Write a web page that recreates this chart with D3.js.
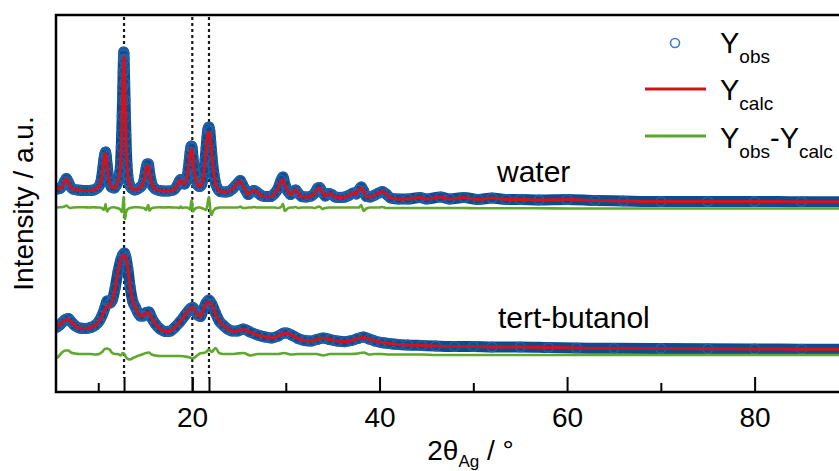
<!DOCTYPE html>
<html>
<head>
<meta charset="utf-8">
<script src="https://cdn.jsdelivr.net/npm/d3@7"></script>
<style>
  html, body { margin: 0; padding: 0; background: #fff; }
  svg { display: block; font-family: "Liberation Sans", Arial, Helvetica, sans-serif; }
</style>
</head>
<body>
<svg id="chart" width="839" height="471"></svg>
<script>
// ---- Water sample: 2θ grid, observed, calculated and difference (a.u.) ----
const waterTwoTheta = [5.6,5.9,6.2,6.4,6.6,6.8,7.0,7.3,7.8,8.5,9.0,9.5,9.9,10.2,10.35,10.5,10.6,10.7,10.78,10.86,10.95,11.05,11.2,11.4,11.7,12.0,12.2,12.3,12.38,12.45,12.5,12.55,12.59,12.62,12.65,12.68,12.7,12.72,12.74,12.76,12.79,12.82,12.86,12.9,12.95,13.0,13.07,13.15,13.25,13.4,13.6,13.9,14.2,14.5,14.8,14.95,15.1,15.22,15.34,15.45,15.6,15.8,16.1,16.5,17.0,17.5,18.0,18.4,18.65,18.8,18.95,19.2,19.5,19.6,19.7,19.8,19.88,19.95,20.02,20.1,20.2,20.3,20.45,20.6,20.8,21.0,21.15,21.3,21.4,21.5,21.6,21.7,21.8,21.9,22.0,22.1,22.2,22.35,22.5,22.7,23.0,23.6,24.0,24.3,24.6,24.9,25.15,25.4,25.7,26.0,26.3,26.6,26.9,27.3,27.8,28.4,28.8,29.2,29.5,29.7,29.9,30.2,30.5,30.8,31.05,31.3,31.7,32.2,32.7,33.1,33.4,33.6,33.9,34.2,34.6,34.9,35.3,35.8,36.3,36.8,37.2,37.5,37.8,38.05,38.3,38.6,39.0,39.5,39.9,40.3,40.7,41.2,42.0,43.0,44.3,45.0,46.5,47.5,49.0,50.5,52.0,53.5,55.0,57.0,60.0,63.0,66.0,70.0,75.0,80.0,85.0,90.0,94.0];
const waterCalc = [21,21.5,24,28,31,28,24,21,20,19.5,19.5,20,22,26,32,42,50,55,56.5,53,45,36,28,23,22,26,32,38,47,62,75,92,108,120,134,146,151,153,151,146,136,124,108,92,74,60,45,35,28,24,21.5,20,21,23,27,33,41,44,44,39,31,24,21,19.5,19,19,20,24,29,30,27,26,34,41,49,57,60,61,59,53,44,36,29,25,23.5,25,30,40,50,61,71,77,78,75,67,57,47,35,27,22,18.5,18,19,21,24,27,28.5,25,20,15.5,18,19.5,18,15,13.5,13.5,16.5,22,29,30,26,19,15.5,18.5,20,17,13.5,13,14,17,21.5,22,18,14,16.5,15.5,13,12.5,13,15,17,16,20,22,19,13.5,13,15,17,18.5,16,12,11,11,12.5,11,13,11,12.5,10.5,12,10.5,10.5,10,10.5,9.5,9,8.5,8.5,8.5,8.3,8.3,8.3];
const waterObs = [21,21.5,24.5,28.5,31.5,28,24,21,20,19.5,19.5,20,22,26,32,42.5,50.5,56,58,53.5,45,36,28,23,22,26,32,38,47,63,76,94,110,123,138,150,155,158,156,151,140,127,110,93,75,60,45,35,28,24,21.5,20,21,23,27,33,41.5,46,46,39,31,24,21,19.5,19,19,20,24,29,30.5,27,26,34,41,49.5,58,63,64,62,53,44,36,29,25,23.5,25,30,40,50.5,62,73,81,83,79,68,57,47,35,27,22,18.5,18,19,21,24,27,29.5,25,20,15.5,18,19.5,18,15,13.5,13.5,16.5,22,30,33,26,19,15.5,18.5,20,17,13.5,13,14,17,22,22.5,18,14,16.5,15.5,13,12.5,13,15,17,16,20,23,19,13.5,13,15,17,18.5,16,12,11,11,12.5,11,13,11,12.5,10.5,12,10.5,10.5,10,10.5,9.5,9,8.5,8.5,8.5,8.3,8.3,8.3];
const waterDiff = [0.5,0.7,1,1.5,2.5,1,0,0.5,0.7,0.7,0.5,0.7,0.5,0.5,0,-1,-2,1,4,-1,-3.5,-2,-0.5,0.5,0.7,0,-0.5,-1,-2,-3,-4,-4,-2,2,6,9,11,10,6,0,-6,-10,-11,-8,-5,-3,-2,-1,-0.5,0,0.5,0.7,0.7,0.5,0,-0.5,-2,1,3,-2.5,-1,0,0.5,0.7,0.5,0.7,0.5,0.5,0,1.5,0,0.5,0.5,0,-0.5,-1.5,4,8,3,-3.5,-2,-1,0,0.5,0.5,0,-0.5,-1,-1.5,-2,1,7,11,3,-6,-7,-4,-2,-0.5,0,0.5,0.5,0.5,0.5,0.5,0.5,1.5,0,0,0.5,0.5,1,0.5,0.5,0.5,0.5,0.5,0,1,4,-3,-0.5,0.5,0.5,1,0,0.5,0.5,0.5,0,1,1.5,-1,0,0.5,0.5,0.5,0.5,0.5,0.5,0.5,0.5,0.5,3,-3,-0.5,0.5,0.5,0.5,1,0,0,0,0,0,0,0,0,0,-0.3,-0.3,-0.3,-0.3,-0.3,-0.5,-0.5,-0.5,-0.5,-0.5,-0.5,-0.5,-0.5,-0.5];

// ---- tert-Butanol sample ----
const butanolTwoTheta = [5.6,5.9,6.2,6.5,6.8,7.1,7.5,8.0,8.6,9.2,9.7,10.1,10.4,10.7,10.95,11.25,11.5,11.8,12.1,12.4,12.6,12.78,12.95,13.15,13.4,13.7,13.95,14.2,14.5,14.8,15.1,15.4,15.7,16.1,16.6,17.2,17.7,18.2,18.7,19.2,19.6,19.9,20.1,20.35,20.6,20.9,21.2,21.5,21.8,22.1,22.5,22.9,23.3,23.8,24.3,24.8,25.5,26.2,27.0,27.8,28.5,29.2,29.8,30.1,30.6,31.3,32.0,32.7,33.3,34.0,34.7,35.5,36.3,37.0,37.7,38.3,38.9,39.5,40.2,41.0,42.0,43.0,44.5,46,48,50,52,55,58,61,65,70,75,80,85,90,94];
const butanolCalc = [33,35,38,40,40.5,38.5,34.5,32,31.5,32.5,35,39,44,50,54,54,60,72,88,100,104,105,102,92,73,58,53,48,44,44,47,47,42,36,31,28.5,29,33,38,44,49,52,52.5,49,45,43.5,50,56,58,55,46,39,35,31,29,29,30.5,28,25,23,22,24,26.5,26.7,25,21.5,19.5,19,20.5,21.7,20.5,19,18.3,19.5,21.5,22.5,21,19,17.5,16.5,15.5,15,14.5,14,13.5,13.5,13,13,12.5,12,11.7,11.5,11.2,11,10.8,10.7,10.6];
const butanolObs = [33,35,38,40.5,41.5,38.5,34.5,32,31.5,32.5,35,39,44.5,52,59,57,60,72,88,100,105,107,102.5,92,73,58,53,48,44,44,47.5,48,42,36,31,28.5,29,33,38,44,49,52,52.5,49,45,43.5,50.5,57,60,56,47,39,35,31,29,29,31,28,25,23,22,24,27,27,25,21.5,19.5,19,20.5,22,20.5,19,18.3,19.5,21.5,23,21,19,17.5,16.5,15.5,15,14.5,14,13.5,13.5,13,13,12.5,12,11.7,11.5,11.2,11,10.8,10.7,10.6];
const butanolDiff = [-3,0,3,4.5,4.5,2.5,1.5,1,1,1,0.5,1,3,6,6.5,5,2,1,1,-0.5,2,1,-2,-4,-4.5,-3,-2,-1,0,1,2,2.5,0.5,-0.5,-1,-1,-1,-1,-1,-1.5,-2,-3,-3.3,-2,0,1.7,2,3,5.5,3,7,2,1,1,1,1.5,2,-0.5,1,1,1,1,2,1.5,0.5,1,1,1,1,-0.5,1,1,1,1,1.5,2.5,0.5,1,1,0.5,0.5,0.5,0.5,0,0,0,0,0,0,0,0,0,0,0,0,0,0];

// Vertical stacking offsets of each trace (a.u.)
const waterOffset = 182, waterDiffOffset = 184;
const butanolOffset = 32, butanolDiffOffset = 37;

// Reflection positions marked by dotted lines (°)
const markerLines = [12.75, 20.03, 21.81];
const majorTicks = [20, 40, 60, 80];
const minorTicks = [10, 30, 50, 70, 90];
const sampleNames = ["water", "tert-butanol"];

const colors = { obsBand: "#0f4c8e", obsRing: "#2361a8", calc: "#d3121d", diff: "#5ea82c" };

const svg = d3.select("#chart");
const plotLeft = 57, plotTop = 15, plotBottom = 392, plotRight = 884;

const x = d3.scaleLinear().domain([5.6, 93.8]).range([plotLeft, plotRight]);
const y = d3.scaleLinear().domain([0, 377]).range([plotBottom, plotTop]);

svg.append("defs").append("clipPath").attr("id", "plotClip")
  .append("rect").attr("x", plotLeft).attr("y", plotTop)
  .attr("width", plotRight - plotLeft).attr("height", plotBottom - plotTop);

// Dotted reference lines
svg.append("g").selectAll("line").data(markerLines).join("line")
  .attr("x1", d => x(d)).attr("x2", d => x(d))
  .attr("y1", plotTop + 2).attr("y2", plotBottom - 14)
  .attr("stroke", "#1a1a1a").attr("stroke-width", 2.2).attr("stroke-dasharray", "3,3");

const plot = svg.append("g").attr("clip-path", "url(#plotClip)");

function drawPattern(tt, obs, calc, diff, off, diffOff) {
  const obsPts = tt.map((t, i) => [t, obs[i] + off]);
  const calcPts = tt.map((t, i) => [t, calc[i] + off]);
  const diffPts = tt.map((t, i) => [t, diff[i] + diffOff]);
  const line = d3.line().x(d => x(d[0])).y(d => y(d[1])).curve(d3.curveMonotoneX);

  // observed data: dense circles merge into a band
  plot.append("path").datum(obsPts).attr("d", line)
    .attr("fill", "none").attr("stroke", colors.obsBand)
    .attr("stroke-width", 11).attr("stroke-linejoin", "round").attr("stroke-linecap", "round");
  plot.append("g").selectAll("circle").data(obsPts).join("circle")
    .attr("cx", d => x(d[0])).attr("cy", d => y(d[1])).attr("r", 4.8)
    .attr("fill", "none").attr("stroke", colors.obsRing).attr("stroke-width", 1.4);

  plot.append("path").datum(diffPts).attr("d", line)
    .attr("fill", "none").attr("stroke", colors.diff).attr("stroke-width", 2.6);
  plot.append("path").datum(calcPts).attr("d", line)
    .attr("fill", "none").attr("stroke", colors.calc).attr("stroke-width", 3);
}

drawPattern(waterTwoTheta, waterObs, waterCalc, waterDiff, waterOffset, waterDiffOffset);
drawPattern(butanolTwoTheta, butanolObs, butanolCalc, butanolDiff, butanolOffset, butanolDiffOffset);

// Frame
svg.append("rect").attr("x", plotLeft - 1).attr("y", plotTop).attr("width", 900).attr("height", plotBottom - plotTop)
  .attr("fill", "none").attr("stroke", "#000").attr("stroke-width", 2.5);

// Axis ticks (pointing inward)
function styleAxis(g) {
  g.select(".domain").remove();
  g.selectAll(".tick line").attr("stroke", "#000").attr("stroke-width", 2);
  g.selectAll(".tick text").attr("font-size", 28).attr("fill", "#000")
    .attr("font-family", "'Liberation Sans', Arial, sans-serif");
}
svg.append("g").attr("transform", `translate(0,${plotBottom})`)
  .call(d3.axisBottom(x).tickValues(majorTicks).tickSize(-15).tickPadding(15).tickFormat(d3.format("d")))
  .call(styleAxis);
svg.append("g").attr("transform", `translate(0,${plotBottom})`)
  .call(d3.axisBottom(x).tickValues(minorTicks).tickSize(-9).tickFormat(""))
  .call(styleAxis);
svg.append("g").attr("transform", `translate(0,${plotBottom})`)
  .call(d3.axisBottom(x).tickValues(markerLines).tickSize(-15).tickFormat(""))
  .call(styleAxis);

// Axis titles
const xt = svg.append("text").attr("x", (plotLeft + plotRight) / 2).attr("y", 460)
  .attr("text-anchor", "middle").attr("font-size", 28).attr("fill", "#000");
xt.append("tspan").text("2θ");
xt.append("tspan").attr("font-size", 17).attr("dy", 7).text("Ag");
xt.append("tspan").attr("dy", -7).text(" / °");

svg.append("text").attr("transform", `translate(33,${(plotTop + plotBottom) / 2}) rotate(-90)`)
  .attr("text-anchor", "middle").attr("font-size", 28).attr("fill", "#000")
  .text("Intensity / a.u.");

// Sample labels
svg.append("text").attr("x", 497).attr("y", 182).attr("font-size", 30).text(sampleNames[0]);
svg.append("text").attr("x", 498).attr("y", 328).attr("font-size", 30).text(sampleNames[1]);

// Legend
const lg = svg.append("g");
lg.append("circle").attr("cx", 675).attr("cy", 43).attr("r", 4.5)
  .attr("fill", "#fff").attr("stroke", "#3f7fc0").attr("stroke-width", 1.6);
lg.append("line").attr("x1", 645).attr("x2", 706).attr("y1", 89).attr("y2", 89)
  .attr("stroke", colors.calc).attr("stroke-width", 3);
lg.append("line").attr("x1", 645).attr("x2", 706).attr("y1", 136).attr("y2", 136)
  .attr("stroke", colors.diff).attr("stroke-width", 3);

function subLabel(yBase, parts) {
  const t = lg.append("text").attr("x", 720).attr("y", yBase).attr("font-size", 29).attr("fill", "#000");
  parts.forEach(([txt, sub], i) => {
    const span = t.append("tspan").text(txt);
    if (sub) span.attr("font-size", 19).attr("dy", 10);
    else if (i > 0) span.attr("dy", -10);
  });
}
subLabel(53, [["Y"], ["obs", true]]);
subLabel(100, [["Y"], ["calc", true]]);
subLabel(148, [["Y"], ["obs", true], ["-Y"], ["calc", true]]);
</script>
</body>
</html>
